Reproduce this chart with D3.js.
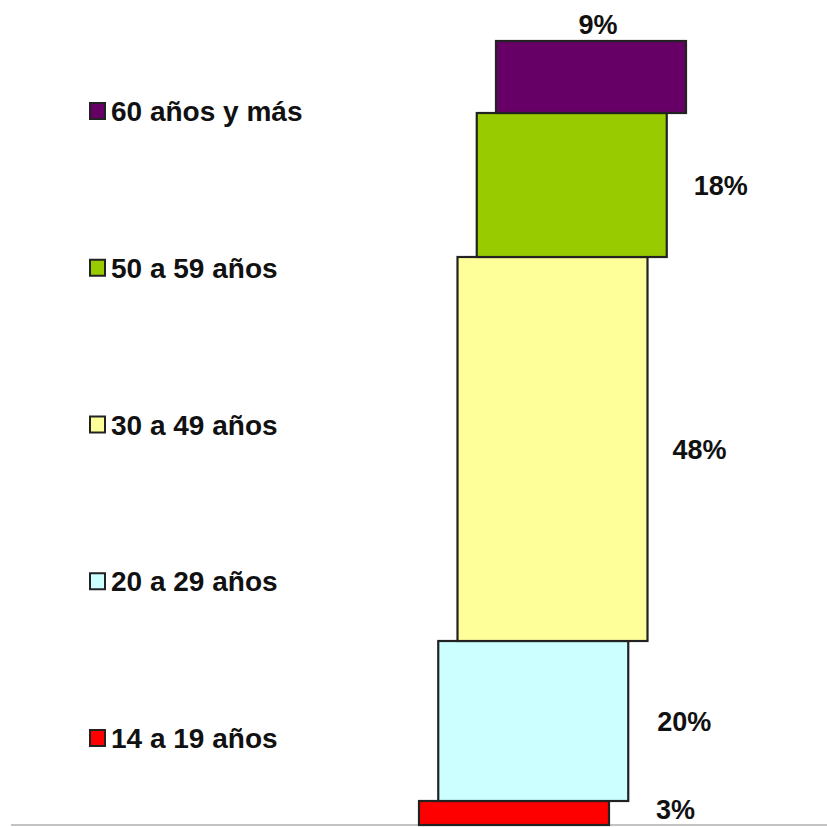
<!DOCTYPE html>
<html>
<head>
<meta charset="utf-8">
<script src="https://cdn.jsdelivr.net/npm/d3@7"></script>
<style>
  html, body { margin: 0; padding: 0; background: #fff; }
  svg { display: block; }
  text { font-family: "Liberation Sans", Arial, sans-serif; font-weight: bold; fill: #111; }
</style>
</head>
<body>
<svg id="chart" width="827" height="827"></svg>
<script>
// Data (bottom to top of the stack)
const categories = ["14 a 19 años", "20 a 29 años", "30 a 49 años", "50 a 59 años", "60 años y más"];
const values = [3, 20, 48, 18, 9];
const valueLabels = ["3%", "20%", "48%", "18%", "9%"];
const colors = ["#FF0000", "#CCFFFF", "#FFFF99", "#99CC00", "#660066"];

// Layout
const W = 827, H = 827;
const baseY = 825;
const barWidth = 190;
const labelDx = [47, 29, 25, 27]; // gap from bar's right edge to its value label

const svg = d3.select("#chart");

const y = d3.scaleLinear().domain([0, 100]).range([baseY, baseY - 800]);
const x = d3.scaleLinear().domain([0, categories.length - 1]).range([419, 496]);

// cumulative stack
let acc = 0;
const stack = values.map((v, i) => {
  const d = { i, cat: categories[i], v, y0: acc, y1: acc + v, label: valueLabels[i], color: colors[i] };
  acc += v;
  return d;
});

// baseline
svg.append("line")
  .attr("x1", 11).attr("x2", W)
  .attr("y1", baseY).attr("y2", baseY)
  .attr("stroke", "#c4c4c4").attr("stroke-width", 2);

// bars
svg.selectAll("rect.bar").data(stack).join("rect")
  .attr("class", "bar")
  .attr("x", d => x(d.i))
  .attr("y", d => y(d.y1))
  .attr("width", barWidth)
  .attr("height", d => y(d.y0) - y(d.y1))
  .attr("fill", d => d.color)
  .attr("stroke", "#222")
  .attr("stroke-width", 2.2);

// value labels
svg.selectAll("text.val").data(stack).join("text")
  .attr("class", "val")
  .attr("font-size", 27)
  .attr("text-anchor", (d, i) => i === stack.length - 1 ? "middle" : "start")
  .attr("x", (d, i) => i === stack.length - 1
      ? x(d.i) + barWidth / 2 + 7
      : x(d.i) + barWidth + labelDx[i])
  .attr("y", (d, i) => i === stack.length - 1
      ? y(d.y1) - 7
      : Math.min((y(d.y0) + y(d.y1)) / 2 + 10, baseY - 6))
  .text(d => d.label);

// legend (top to bottom: reverse order)
const legendOrder = stack.slice().reverse();
const ly = d3.scalePoint().domain(legendOrder.map(d => d.cat)).range([111, 738]);

const lg = svg.selectAll("g.leg").data(legendOrder).join("g")
  .attr("class", "leg")
  .attr("transform", d => `translate(0,${ly(d.cat)})`);

lg.append("rect")
  .attr("x", 90).attr("y", -8)
  .attr("width", 15).attr("height", 16)
  .attr("fill", d => d.color)
  .attr("stroke", "#222")
  .attr("stroke-width", 2);

lg.append("text")
  .attr("x", 111)
  .attr("y", 10)
  .attr("font-size", 28)
  .text(d => d.cat);
</script>
</body>
</html>
